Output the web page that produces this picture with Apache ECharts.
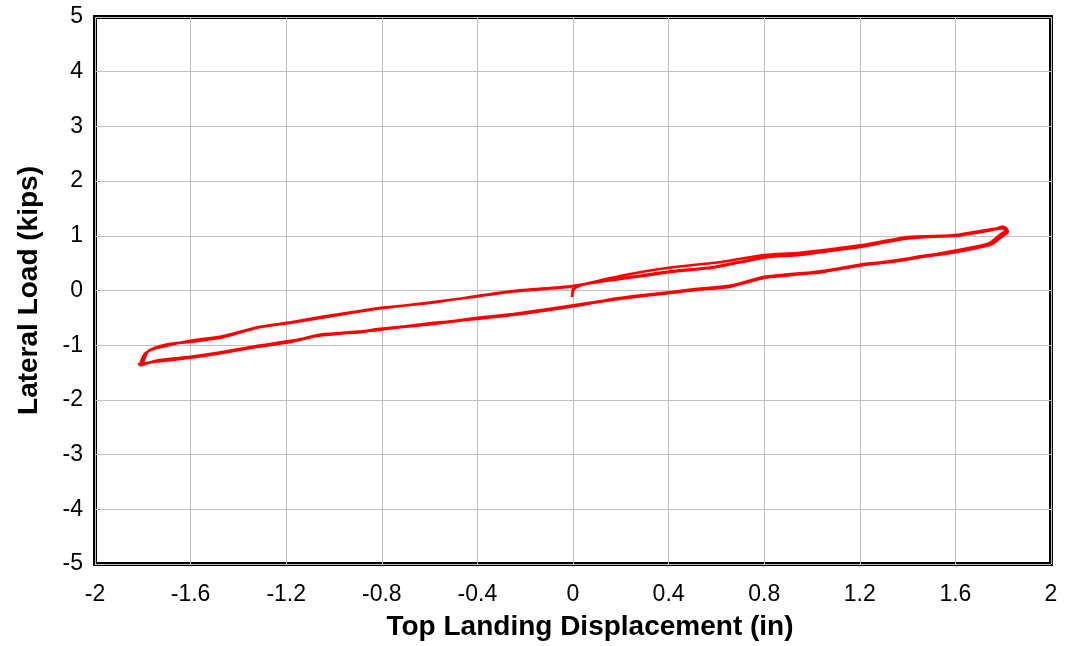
<!DOCTYPE html>
<html>
<head>
<meta charset="utf-8">
<script src="https://cdn.jsdelivr.net/npm/echarts@6/dist/echarts.min.js"></script>
<style>
  html, body { margin: 0; padding: 0; background: #fff; }
  #chart { width: 1065px; height: 646px; }
</style>
</head>
<body>
<div id="chart"></div>
<script>
// ===== data: [displacement (in), lateral load (kips)] =====
const cycle1Upper = [
  [0.00, 0.05], [-0.004, -0.12], [0.003, 0.02], [0.03, 0.09], [0.10, 0.17], [0.24, 0.30],
  [0.41, 0.42], [0.62, 0.52], [0.80, 0.65], [0.95, 0.69], [1.21, 0.83], [1.40, 0.98],
  [1.61, 1.01], [1.75, 1.10], [1.80, 1.17], [1.81, 1.10]
]
const cycle1Lower = [
  [1.79, 1.03], [1.74, 0.86], [1.60, 0.73], [1.46, 0.62], [1.33, 0.54], [1.21, 0.47],
  [1.05, 0.35], [0.91, 0.30], [0.80, 0.24], [0.66, 0.08], [0.52, 0.02], [0.40, -0.04],
  [0.17, -0.17], [0.03, -0.26], [-0.25, -0.44], [-0.40, -0.51], [-0.60, -0.62], [-0.81, -0.71],
  [-0.90, -0.77], [-1.05, -0.80], [-1.18, -0.93], [-1.32, -1.02], [-1.46, -1.13], [-1.60, -1.22],
  [-1.74, -1.29], [-1.81, -1.36]
]
const cycle2Upper = [
  [-1.80, -1.33], [-1.78, -1.12], [-1.73, -1.02], [-1.66, -0.96], [-1.60, -0.94], [-1.46, -0.85],
  [-1.32, -0.68], [-1.18, -0.59], [-1.05, -0.50], [-0.90, -0.39], [-0.81, -0.33], [-0.60, -0.22],
  [-0.40, -0.11], [-0.25, -0.02], [-0.01, 0.07], [0.10, 0.16], [0.17, 0.19], [0.41, 0.34],
  [0.59, 0.42], [0.80, 0.60], [0.95, 0.66], [1.21, 0.80], [1.40, 0.96], [1.61, 1.00],
  [1.75, 1.11], [1.80, 1.14], [1.81, 1.08]
]
const cycle2Lower = [
  [1.79, 1.01], [1.74, 0.83], [1.60, 0.70], [1.46, 0.61], [1.33, 0.52], [1.21, 0.46],
  [1.05, 0.34], [0.91, 0.28], [0.80, 0.23], [0.66, 0.07], [0.52, 0.01], [0.40, -0.05],
  [0.17, -0.16], [0.03, -0.25], [-0.25, -0.43], [-0.40, -0.50], [-0.60, -0.61], [-0.81, -0.70],
  [-0.90, -0.76], [-1.05, -0.82], [-1.18, -0.92], [-1.32, -1.01], [-1.46, -1.12], [-1.60, -1.21],
  [-1.74, -1.28], [-1.81, -1.37]
]
const cycle3Upper = [
  [-1.81, -1.35], [-1.79, -1.15], [-1.74, -1.05], [-1.67, -0.98], [-1.60, -0.92], [-1.46, -0.83],
  [-1.32, -0.67], [-1.18, -0.58], [-1.05, -0.48], [-0.90, -0.38], [-0.81, -0.32], [-0.60, -0.23],
  [-0.40, -0.10], [-0.25, -0.01], [-0.01, 0.08], [0.10, 0.15], [0.17, 0.20], [0.41, 0.35],
  [0.59, 0.43], [0.80, 0.61], [0.95, 0.65], [1.21, 0.81], [1.40, 0.95], [1.61, 1.02],
  [1.75, 1.12], [1.81, 1.15], [1.82, 1.07]
]
const cycle3Lower = [
  [1.80, 1.00], [1.75, 0.84], [1.60, 0.71], [1.46, 0.63], [1.33, 0.53], [1.21, 0.48],
  [1.05, 0.36], [0.91, 0.29], [0.80, 0.25], [0.66, 0.09], [0.52, 0.03], [0.40, -0.03],
  [0.17, -0.15], [0.03, -0.27], [-0.25, -0.45], [-0.40, -0.52], [-0.60, -0.60], [-0.81, -0.72],
  [-0.90, -0.75], [-1.05, -0.81], [-1.18, -0.94], [-1.32, -1.03], [-1.46, -1.14], [-1.60, -1.23],
  [-1.74, -1.30], [-1.82, -1.35]
]

const loopData = [].concat(cycle1Upper, cycle1Lower, cycle2Upper, cycle2Lower, cycle3Upper, cycle3Lower)

const FONT = 'Liberation Sans, Arial, sans-serif'

const chart = echarts.init(document.getElementById('chart'), null, { renderer: 'canvas' })
chart.setOption({
  animation: false,
  backgroundColor: '#fff',
  grid: {
    left: 95, right: 14, top: 17, bottom: 79,
    show: true, borderColor: '#000', borderWidth: 4, backgroundColor: 'transparent'
  },
  xAxis: {
    type: 'value',
    min: -2, max: 2, interval: 0.4,
    name: 'Top Landing Displacement (in)',
    nameLocation: 'middle',
    nameGap: 49,
    nameTextStyle: { fontFamily: FONT, fontSize: 28, fontWeight: 'bold', color: '#000', padding: [0, 0, 0, 34] },
    axisLine: { show: false },
    axisTick: { show: false },
    axisLabel: { fontFamily: FONT, fontSize: 23, color: '#000', margin: 19 },
    splitLine: { show: true, lineStyle: { color: '#c0c0c0', width: 1 } }
  },
  yAxis: {
    type: 'value',
    min: -5, max: 5, interval: 1,
    name: 'Lateral Load (kips)',
    nameLocation: 'middle',
    nameGap: 52,
    nameTextStyle: { fontFamily: FONT, fontSize: 28, fontWeight: 'bold', color: '#000' },
    axisLine: { show: false },
    axisTick: { show: false },
    axisLabel: { fontFamily: FONT, fontSize: 23, color: '#000', margin: 12 },
    splitLine: { show: true, lineStyle: { color: '#c0c0c0', width: 1 } }
  },
  series: [{
    type: 'line',
    data: loopData,
    symbol: 'none',
    smooth: 0.2,
    lineStyle: { color: '#ff0000', width: 2.5 },
    clip: true
  }]
})
</script>
</body>
</html>
